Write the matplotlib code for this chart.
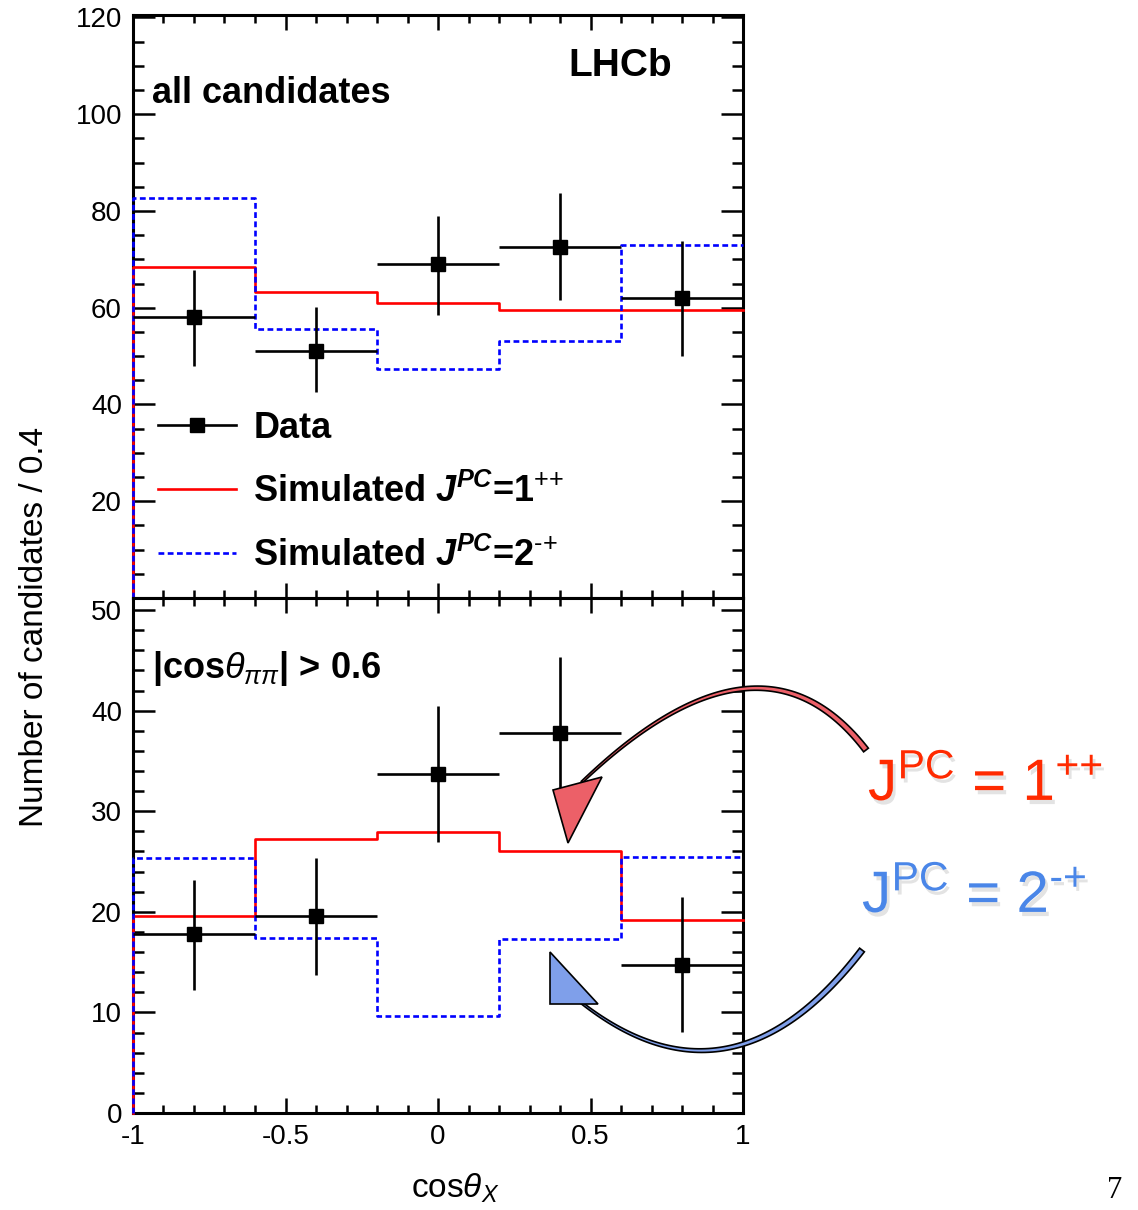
import numpy as np
import matplotlib
matplotlib.use("Agg")
import matplotlib.pyplot as plt
import matplotlib.patheffects as pe
from matplotlib.lines import Line2D
from matplotlib.patches import Polygon
from matplotlib.ticker import MultipleLocator

plt.rcParams['font.family'] = ['Liberation Sans', 'DejaVu Sans']
plt.rcParams['mathtext.fontset'] = 'custom'
plt.rcParams['mathtext.rm'] = 'Liberation Sans'
plt.rcParams['mathtext.it'] = 'Liberation Sans:italic'
plt.rcParams['mathtext.bf'] = 'Liberation Sans:bold'
plt.rcParams['mathtext.bfit'] = 'Liberation Sans:italic:bold'
plt.rcParams['axes.unicode_minus'] = False

# bins of cos(theta_X)
edges = [-1.0, -0.6, -0.2, 0.2, 0.6, 1.0]
centers = [-0.8, -0.4, 0.0, 0.4, 0.8]

# all candidates
top_data = [58.0, 51.0, 69.0, 72.5, 62.0]
top_err_lo = [10.0, 8.5, 10.5, 11.0, 12.0]
top_err_hi = [9.8, 9.2, 10.0, 11.3, 11.8]
top_1pp = [68.5, 63.3, 60.9, 59.6, 59.6]
top_2mp = [82.6, 55.5, 47.4, 53.2, 72.9]

# |cos theta_pipi| > 0.6
bot_data = [17.8, 19.6, 33.7, 37.8, 14.7]
bot_err_lo = [5.6, 5.9, 6.8, 7.4, 6.6]
bot_err_hi = [5.4, 5.8, 6.8, 7.5, 6.8]
bot_1pp = [19.6, 27.2, 27.9, 26.0, 19.2]
bot_2mp = [25.4, 17.4, 9.6, 17.3, 25.5]

xticks = [-1, -0.5, 0, 0.5, 1]
xticklabels = ['-1', '-0.5', '0', '0.5', '1']
top_yticks = [20, 40, 60, 80, 100, 120]
bot_yticks = [0, 10, 20, 30, 40, 50]

W, H = 1138, 1210
fig = plt.figure(figsize=(W / 100, H / 100), dpi=100)
ax1 = fig.add_axes([133 / W, 1 - 598 / H, 610 / W, 583 / H])
ax2 = fig.add_axes([133 / W, 1 - 1113 / H, 610 / W, 515 / H])

red = '#ff0000'
blue = '#0000ff'


def draw_panel(ax, data, lo, hi, s1, s2):
    # histograms start from zero at the left edge, like ROOT
    ax.step([edges[0]] + edges, [0] + s1 + [s1[-1]], where='post',
            color=red, lw=1.9, zorder=3, clip_on=False)
    ax.step([edges[0]] + edges, [0] + s2 + [s2[-1]], where='post',
            color=blue, lw=1.9, ls=(0, (2.2, 1.3)), zorder=3, clip_on=False)
    ax.errorbar(centers, data, xerr=0.2, yerr=[lo, hi], fmt='s', color='k',
                ms=10, elinewidth=1.9, capsize=0, zorder=4)
    ax.set_xlim(-1, 1)
    ax.xaxis.set_major_locator(MultipleLocator(0.5))
    ax.xaxis.set_minor_locator(MultipleLocator(0.1))
    for sp in ax.spines.values():
        sp.set_linewidth(2.2)
    ax.tick_params(which='both', direction='in', top=True, right=True,
                   width=1.8, labelsize=20, pad=8)
    ax.tick_params(axis='x', which='major', length=11)
    ax.tick_params(axis='x', which='minor', length=6)
    ax.tick_params(axis='y', which='major', length=16)
    ax.tick_params(axis='y', which='minor', length=8)


draw_panel(ax1, top_data, top_err_lo, top_err_hi, top_1pp, top_2mp)
ax1.set_ylim(0, 120.5)
ax1.set_yticks(top_yticks)
ax1.yaxis.set_minor_locator(MultipleLocator(5))
ax1.tick_params(axis='x', labelbottom=False)

draw_panel(ax2, bot_data, bot_err_lo, bot_err_hi, bot_1pp, bot_2mp)
ax2.set_ylim(0, 51.2)
ax2.set_yticks(bot_yticks)
ax2.yaxis.set_minor_locator(MultipleLocator(2))
ax2.set_xticks(xticks)
ax2.set_xticklabels(xticklabels)

ax1.text(0.031, 0.866, 'all candidates', transform=ax1.transAxes,
         fontsize=26, fontweight='bold', va='center', ha='left')
ax1.text(0.798, 0.913, 'LHCb', transform=ax1.transAxes,
         fontsize=28, fontweight='bold', va='center', ha='center')
ax2.text(0.031, 0.864, r'|cos$\theta_{\pi\pi}$| > 0.6', transform=ax2.transAxes,
         fontsize=26, fontweight='bold', va='center', ha='left')

handles = [
    Line2D([0], [0], color='k', marker='s', ms=10, lw=1.9),
    Line2D([0], [0], color=red, lw=1.9),
    Line2D([0], [0], color=blue, lw=1.9, ls=(0, (2.2, 1.3))),
]
labels = ['Data',
          r'Simulated $\mathbfit{J}^{\mathbfit{PC}}$=1$^{\text{++}}$',
          r'Simulated $\mathbfit{J}^{\mathbfit{PC}}$=2$^{\text{-+}}$']
leg = ax1.legend(handles, labels, loc='upper left', bbox_to_anchor=(0.041, 0.321),
                 frameon=False, prop={'size': 26, 'weight': 'bold'},
                 handlelength=2.17, handletextpad=0.47, labelspacing=0.77,
                 borderpad=0, borderaxespad=0)

fig.text(35 / W, 1 - 627 / H, 'Number of candidates / 0.4', rotation=90,
         fontsize=24, ha='center', va='center')
fig.text(455 / W, 1 - 1188 / H, r'cos$\theta_X$', fontsize=24,
         ha='center', va='center')
fig.text(1115 / W, 1 - 1190 / H, '7', fontsize=22, family='Liberation Serif',
         ha='center', va='center')


def px(pts):
    pts = np.asarray(pts, dtype=float)
    return np.column_stack([pts[:, 0] / W, 1 - pts[:, 1] / H])


def curved_arrow(p0, c, p2, head, w0, w1, color):
    p0, c, p2 = np.array(p0, float), np.array(c, float), np.array(p2, float)
    t = np.linspace(0, 1, 80)[:, None]
    pts = (1 - t) ** 2 * p0 + 2 * (1 - t) * t * c + t ** 2 * p2
    d = 2 * (1 - t) * (c - p0) + 2 * t * (p2 - c)
    n = np.column_stack([-d[:, 1], d[:, 0]]) / np.hypot(d[:, 0], d[:, 1])[:, None]
    w = (w0 * (1 - t) + w1 * t) / 2
    body = np.vstack([pts + n * w, (pts - n * w)[::-1]])
    fig.patches.append(Polygon(px(body), closed=True, transform=fig.transFigure,
                               facecolor=color, edgecolor='k', lw=1.2))
    fig.patches.append(Polygon(px(head), closed=True, transform=fig.transFigure,
                               facecolor=color, edgecolor='k', lw=1.2))


curved_arrow((866, 750), (760, 612), (582, 782),
             [(553, 790), (602, 777), (568, 843)], 6, 2, '#ec6068')
curved_arrow((862, 950), (730, 1122), (578, 1000),
             [(550, 952), (550, 1004), (598, 1004)], 6, 2, '#7f9fea')

shadow = [pe.withSimplePatchShadow(offset=(2, -3), shadow_rgbFace='gray', alpha=0.22)]
fig.text(868 / W, 1 - 785 / H, r'J$^{\text{PC}}$ = 1$^{\text{++}}$', fontsize=42,
         color='#ff2a00', ha='left', va='center', path_effects=shadow)
fig.text(862 / W, 1 - 897 / H, r'J$^{\text{PC}}$ = 2$^{\text{-+}}$', fontsize=42,
         color='#4a86e8', ha='left', va='center', path_effects=shadow)

fig.savefig('out.png', dpi=100)
